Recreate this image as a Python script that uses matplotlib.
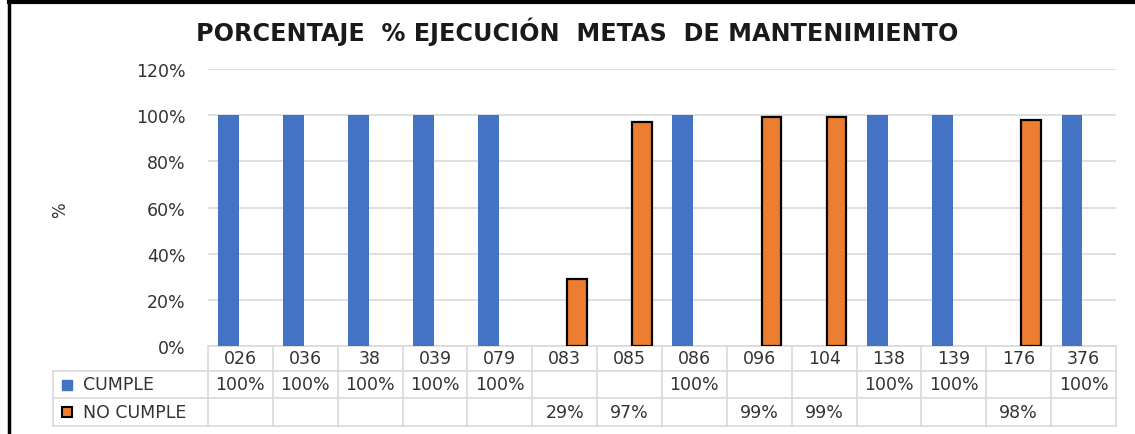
import numpy as np
import matplotlib
matplotlib.use('Agg')
from matplotlib import pyplot as plt
from matplotlib.transforms import blended_transform_factory
from matplotlib.patches import Rectangle

# metas y porcentaje de ejecucion
metas = ['026', '036', '38', '039', '079', '083', '085', '086', '096', '104', '138', '139', '176', '376']
cumple = [100, 100, 100, 100, 100, None, None, 100, None, None, 100, 100, None, 100]
no_cumple = [None, None, None, None, None, 29, 97, None, 99, 99, None, None, 98, None]
y_ticks = [0, 20, 40, 60, 80, 100, 120]

azul = '#4472C4'
naranja = '#ED7D31'
gris = '#D9D9D9'
texto = '#333333'

W, H = 1135, 435
fig = plt.figure(figsize=(W / 100, H / 100), dpi=100)
plt.rcParams['font.family'] = ['DejaVu Sans']

def fx(px):
    return px / W

def fy(py):
    return 1 - py / H

ax = fig.add_axes([fx(208), fy(347), fx(1116) - fx(208), fy(70) - fy(347)])

x = np.arange(len(metas))
ancho = 0.32
for i in range(len(metas)):
    if cumple[i] is not None:
        ax.bar(x[i] - 0.18, cumple[i] / 100, ancho, color=azul, zorder=3)
    if no_cumple[i] is not None:
        ax.bar(x[i] + 0.19, no_cumple[i] / 100, ancho - 0.02, color=naranja,
               edgecolor='black', linewidth=1.6, zorder=3)

ax.set_xlim(-0.5, len(metas) - 0.5)
ax.set_ylim(0, 1.2)
ax.set_yticks([t / 100 for t in y_ticks])
ax.set_yticklabels(['{}%'.format(t) for t in y_ticks], fontsize=12.5, color=texto)
ax.tick_params(axis='y', length=0, pad=16)
ax.set_xticks([])
ax.grid(axis='y', color=gris, linewidth=1.2, zorder=0)
for s in ax.spines.values():
    s.set_visible(False)

fig.text(fx(60), fy(210), '%', rotation=90, fontsize=12, color=texto, ha='center', va='center')
fig.text(fx(577), fy(32), 'PORCENTAJE  % EJECUCIÓN  METAS  DE MANTENIMIENTO',
         fontsize=17.2, fontweight='bold', color='#1a1a1a', ha='center', va='center')

# tabla de datos debajo del eje
tr = blended_transform_factory(ax.transData, fig.transFigure)
y_top, y_h, y_r1, y_bot = fy(347), fy(372), fy(399), fy(427)
x0 = -0.5
x1 = len(metas) - 0.5
lk = dict(color=gris, linewidth=1.2, clip_on=False)
ax.plot([x0, x1], [y_top, y_top], transform=tr, **lk)
for yy in [y_h, y_r1, y_bot]:
    fig.add_artist(plt.Line2D([fx(53), ax.get_position().x1], [yy, yy], **lk))
fig.add_artist(plt.Line2D([fx(53), fx(53)], [y_h, y_bot], **lk))
for i in range(len(metas) + 1):
    ax.plot([i - 0.5, i - 0.5], [y_top, y_bot], transform=tr, **lk)

for i, m in enumerate(metas):
    ax.text(i, (y_top + y_h) / 2, m, transform=tr, ha='center', va='center',
            fontsize=12.5, color=texto)
    if cumple[i] is not None:
        ax.text(i, (y_h + y_r1) / 2, '{}%'.format(cumple[i]), transform=tr,
                ha='center', va='center', fontsize=12.5, color=texto)
    if no_cumple[i] is not None:
        ax.text(i, (y_r1 + y_bot) / 2, '{}%'.format(no_cumple[i]), transform=tr,
                ha='center', va='center', fontsize=12.5, color=texto)

fig.add_artist(Rectangle((fx(62), fy(391)), fx(10), fy(381) - fy(391), color=azul))
fig.add_artist(Rectangle((fx(62), fy(418)), fx(10), fy(408) - fy(418),
                         facecolor=naranja, edgecolor='black', linewidth=1.5))
fig.text(fx(83), (y_h + y_r1) / 2, 'CUMPLE', fontsize=12.5, color=texto, va='center')
fig.text(fx(83), (y_r1 + y_bot) / 2, 'NO CUMPLE', fontsize=12.5, color=texto, va='center')

# marco
fig.add_artist(plt.Line2D([fx(9), fx(9)], [0, fy(3)], color='black', linewidth=2.5))
fig.add_artist(plt.Line2D([fx(9), 1], [fy(3), fy(3)], color='black', linewidth=3))

fig.savefig('out.png', dpi=100)
